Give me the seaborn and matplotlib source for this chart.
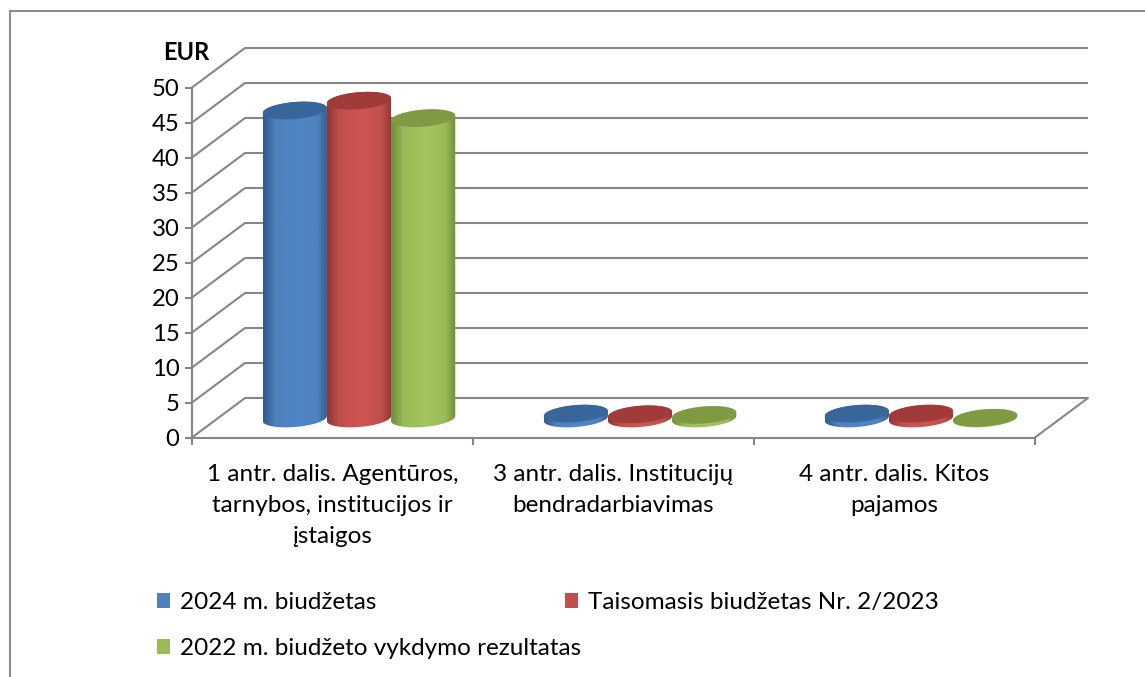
"""3D style cylinder chart of budget lines (EUR)."""

import matplotlib
matplotlib.use("Agg")
import matplotlib.pyplot as plt
import numpy as np
import pandas as pd
import seaborn as sns
from matplotlib.colors import LinearSegmentedColormap
from matplotlib.patches import Patch, Polygon
from matplotlib.path import Path

W, H = 1145, 677

categories = [
    "1 antr. dalis. Agentūros,\ntarnybos, institucijos ir\nįstaigos",
    "3 antr. dalis. Institucijų\nbendradarbiavimas",
    "4 antr. dalis. Kitos\npajamos",
]
series_names = [
    "2024 m. biudžetas",
    "Taisomasis biudžetas Nr. 2/2023",
    "2022 m. biudžeto vykdymo rezultatas",
]
values_2024 = [44.0, 0.7, 0.7]
values_2023 = [45.4, 0.6, 0.7]
values_2022 = [42.9, 0.5, 0.1]
y_ticks = [0, 5, 10, 15, 20, 25, 30, 35, 40, 45, 50]

body_colors = ["#4f81bd", "#c0504d", "#9bbb59"]
edge_colors = ["#2f5b8e", "#8f3734", "#6f8b3a"]
light_colors = ["#4f86c6", "#cf5653", "#a3c45e"]
top_colors = ["#38669b", "#a03b39", "#7e9b44"]
line_color = "#868686"

# walls go 53 px right and 39.5 px up, one unit is 7 px, one category 281 px
DEPTH_X = 53 / 281
DEPTH_Y = 39.5 / 7
BASE_Y = 19 / 7
ELL_B = 8.5 / 7
ELL_TILT = 2.5 / 7

sns.set_theme(style="white")
plt.rcParams["font.family"] = ["Lato", "DejaVu Sans"]

df = pd.DataFrame({
    "kategorija": categories * 3,
    "serija": np.repeat(series_names, 3),
    "EUR": values_2024 + values_2023 + values_2022,
})

fig = plt.figure(figsize=(W / 100, H / 100), dpi=100)
ax = fig.add_axes([192 / W, 1 - 437.5 / H, 843 / W, 350 / H])

sns.barplot(
    data=df, x="kategorija", y="EUR", hue="serija", hue_order=series_names,
    order=categories, palette=body_colors, width=0.685, gap=0, errorbar=None,
    legend=False, ax=ax,
)


def ellipse_xy(xc, yc, half_w, t):
    return np.column_stack([
        xc + half_w * np.cos(t),
        yc + ELL_B * np.sin(t) + ELL_TILT * np.cos(t),
    ])


# seaborn gives the bar geometry, every bar is repainted as a shaded cylinder
shade = np.linspace(0, 1, 256).reshape(1, -1)
for i, container in enumerate(ax.containers):
    cmap = LinearSegmentedColormap.from_list(
        f"cyl{i}",
        [(0, edge_colors[i]), (0.2, body_colors[i]), (0.55, light_colors[i]),
         (0.84, body_colors[i]), (1, edge_colors[i])],
    )
    for bar in container:
        bar.set_facecolor("none")
        bar.set_edgecolor("none")
        half_w = bar.get_width() / 2
        xc = bar.get_x() + half_w + DEPTH_X / 2
        height = bar.get_height()
        low = ellipse_xy(xc, BASE_Y, half_w, np.linspace(np.pi, 2 * np.pi, 60))
        high = ellipse_xy(xc, BASE_Y + height, half_w, np.linspace(0, np.pi, 60))
        outline = np.vstack([low, high, low[:1]])
        im = ax.imshow(
            shade, cmap=cmap, aspect="auto", interpolation="bilinear", zorder=3 + i,
            extent=[xc - half_w, xc + half_w, BASE_Y - 2, BASE_Y + height + 2],
        )
        im.set_clip_path(Path(outline, closed=True), ax.transData)
        im.set_clip_box(fig.bbox)
        ax.add_patch(Polygon(
            ellipse_xy(xc, BASE_Y + height, half_w, np.linspace(0, 2 * np.pi, 120)),
            closed=True, facecolor=top_colors[i], edgecolor="none",
            zorder=3 + i, clip_on=False,
        ))

ax.set_xlim(-0.5, 2.5)
ax.set_ylim(0, 50)

# back wall and side wall
for v in y_ticks:
    y_back = v + DEPTH_Y
    ax.plot([-0.5 + DEPTH_X, 2.5 + DEPTH_X], [y_back, y_back], color=line_color,
            lw=1.5, zorder=1, clip_on=False, solid_capstyle="butt")
    ax.plot([-0.5, -0.5 + DEPTH_X], [v, y_back], color=line_color, lw=1.5,
            zorder=1, clip_on=False)
ax.plot([2.5, 2.5 + DEPTH_X], [0, DEPTH_Y], color=line_color, lw=1.5, zorder=1,
        clip_on=False)

sns.despine(ax=ax, top=True, right=True)
for side in ["left", "bottom"]:
    ax.spines[side].set_color(line_color)
    ax.spines[side].set_linewidth(1.5)
    ax.spines[side].set_zorder(2)

ax.set_yticks(y_ticks)
ax.tick_params(axis="y", left=True, length=5, width=1.5, color=line_color, pad=4,
               labelsize=17.2, labelcolor="black")
ax.set_xticks([-0.5, 0.5, 1.5, 2.5], ["", "", "", ""])
ax.set_xticks([0, 1, 2], categories, minor=True)
ax.tick_params(axis="x", which="major", bottom=True, length=5, width=1.5, color=line_color)
ax.tick_params(axis="x", which="minor", bottom=False, length=0, pad=19, labelsize=17.5,
               labelcolor="black")
for label in ax.get_xticklabels(minor=True):
    label.set_linespacing(1.6)
ax.set_xlabel("")
ax.set_ylabel("")

fig.text(163 / W, 1 - 52 / H, "EUR", fontsize=17, fontweight="bold", color="black",
         va="center", ha="left")

# chart frame is cut off on the right and at the bottom
fig.add_artist(plt.Line2D([10.5 / W, 10.5 / W, 1], [0, 1 - 11 / H, 1 - 11 / H],
                          color="#8c8c8c", lw=1.5, solid_joinstyle="miter"))

legend_opts = dict(
    loc="upper left", frameon=False, borderpad=0, borderaxespad=0, fontsize=17.5,
    handlelength=0.55, handleheight=0.6, handletextpad=0.4, labelspacing=1.04,
    labelcolor="black",
)
fig.legend(
    handles=[Patch(facecolor=body_colors[0], edgecolor="none", label=series_names[0]),
             Patch(facecolor=body_colors[2], edgecolor="none", label=series_names[2])],
    bbox_to_anchor=(157 / W, 1 - 592 / H), **legend_opts,
)
fig.legend(
    handles=[Patch(facecolor=body_colors[1], edgecolor="none", label=series_names[1])],
    bbox_to_anchor=(565 / W, 1 - 592 / H), **legend_opts,
)

fig.savefig("out.png", dpi=100)
plt.close(fig)
